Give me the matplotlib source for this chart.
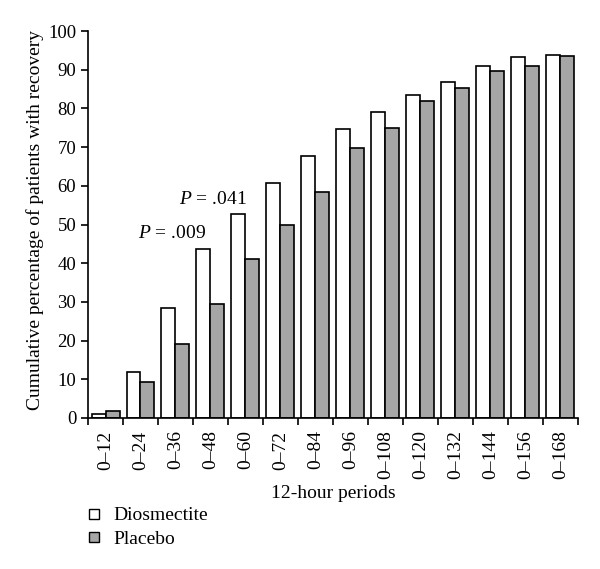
import matplotlib

matplotlib.use("Agg")
import matplotlib.pyplot as plt
import numpy as np
from matplotlib.lines import Line2D

plt.rcParams["font.family"] = ["Liberation Serif", "DejaVu Serif"]
plt.rcParams["mathtext.fontset"] = "custom"
plt.rcParams["mathtext.it"] = "Liberation Serif:italic"
plt.rcParams["mathtext.rm"] = "Liberation Serif"

periods = ["0–12", "0–24", "0–36", "0–48", "0–60", "0–72", "0–84",
           "0–96", "0–108", "0–120", "0–132", "0–144", "0–156", "0–168"]
diosmectite = [1.1, 12.0, 28.3, 43.6, 52.6, 60.8, 67.8,
               74.7, 79.0, 83.4, 86.8, 91.1, 93.2, 93.9]
placebo = [1.7, 9.4, 19.1, 29.5, 41.1, 50.0, 58.3,
           69.8, 74.9, 82.0, 85.3, 89.7, 91.1, 93.6]

# (x position in category units, y, text)
pvals = [(1.9, 47.8, ".009"), (3.07, 56.5, ".041")]

fig = plt.figure(figsize=(6.0, 5.69), dpi=100)
ax = fig.add_axes([0.1467, 0.2654, 0.8163, 0.68])

x = np.arange(len(periods))
w = 0.4
ax.bar(x - w / 2, diosmectite, w, color="white", edgecolor="black", linewidth=1.2)
ax.bar(x + w / 2, placebo, w, color="#a6a6a6", edgecolor="black", linewidth=1.2)

for px, py, t in pvals:
    ax.text(px, py, f"$P$ = {t}", ha="center", va="center", fontsize=14)

ax.set_xlim(-0.5, len(periods) - 0.5)
ax.set_ylim(0, 100)
ax.set_yticks(range(0, 101, 10))
ax.set_xticks(x)
ax.set_xticklabels(periods, rotation=90, fontsize=14)
ax.set_xticks(np.arange(len(periods) + 1) - 0.5, minor=True)
ax.tick_params(axis="x", which="major", length=0, pad=9)
ax.tick_params(axis="x", which="minor", length=5, width=1.2, direction="out")
ax.tick_params(axis="y", length=5, width=1.2, direction="out", labelsize=13.5)
ax.set_xlabel("12-hour periods", fontsize=14, labelpad=4)
ax.set_ylabel("Cumulative percentage of patients with recovery", fontsize=14)
ax.yaxis.set_label_coords(-0.09, 0.512)

ax.spines["top"].set_visible(False)
ax.spines["right"].set_visible(False)
ax.spines["left"].set_linewidth(1.2)
ax.spines["bottom"].set_linewidth(1.2)

handles = [
    Line2D([], [], ls="none", marker="s", markersize=7, markerfacecolor="white",
           markeredgecolor="black", markeredgewidth=1),
    Line2D([], [], ls="none", marker="s", markersize=7, markerfacecolor="#a6a6a6",
           markeredgecolor="black", markeredgewidth=1),
]
fig.legend(handles, ["Diosmectite", "Placebo"], loc="upper left",
           bbox_to_anchor=(0.115, 0.14), frameon=False, fontsize=14,
           handlelength=0.8, handletextpad=0.6, labelspacing=0.3)

fig.savefig("out.png", dpi=100)
